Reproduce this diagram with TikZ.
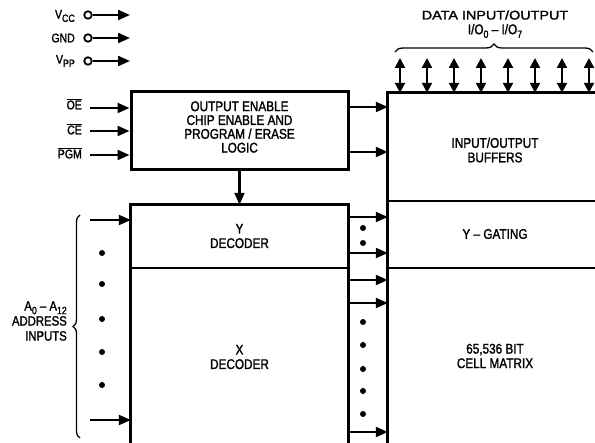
\documentclass[tikz,border=0pt]{standalone}
\usepackage{fontspec}
\setmainfont{Liberation Sans}[FakeStretch=0.84,FakeBold=1.6]
\newfontfamily\widefont{Liberation Sans}[FakeStretch=1.15,FakeBold=1.6]
\usetikzlibrary{arrows.meta,decorations.pathreplacing}
\newcommand{\lowsub}[1]{\raisebox{-0.5ex}{\fontsize{10.5}{10.5}\selectfont #1}}
\newcommand{\ovl}[1]{$\overline{\hbox{#1}}$}
\begin{document}
\begin{tikzpicture}[x=1pt,y=-1pt,
  box/.style={draw,line width=3pt,inner sep=0pt},
  part/.style={inner sep=0pt},
  divider/.style={line width=2.2pt},
  sig/.style={line width=2.1pt,-{Triangle[length=12pt,width=10pt]}},
  bidir/.style={line width=2.1pt,{Triangle[length=10pt,width=10pt]}-{Triangle[length=10pt,width=10pt]}},
  lbl/.style={font=\fontsize{14}{14.5}\selectfont,align=center,inner sep=0pt},
  pinl/.style={font=\fontsize{12.5}{14}\selectfont,anchor=east,inner sep=0pt},
  dot/.style={circle,fill,inner sep=0pt,minimum size=6pt},
  ring/.style={circle,draw,line width=1.8pt,inner sep=0pt,minimum size=7.5pt},
  bracestyle/.style={decorate,line width=1.3pt},
  ]
\useasboundingbox (0,0) rectangle (595,443);
\begin{scope}
\clip (0,0) rectangle (595,443);

% power pins
\node[pinl] (vcc) at (75,16) {V\lowsub{CC}};
\node[pinl] (gnd) at (75,38) {GND};
\node[pinl] (vpp) at (75,61) {V\lowsub{PP}};
\node[ring] (cvcc) at (88,15) {};
\node[ring] (cgnd) at (88,38) {};
\node[ring] (cvpp) at (88,61) {};
\coordinate (evcc) at (130,15);
\coordinate (egnd) at (130,38);
\coordinate (evpp) at (130,61);
\draw[sig] (cvcc) -- (evcc);
\draw[sig] (cgnd) -- (egnd);
\draw[sig] (cvpp) -- (evpp);

% logic block
\node[box,minimum width=217pt,minimum height=78pt] (logic) at (239.5,131) {};
\node[lbl,font=\fontsize{14}{13.8}\selectfont] (logictext) at (239.5,127)
  {OUTPUT ENABLE\\CHIP ENABLE AND\\PROGRAM / ERASE\\LOGIC};

\node[pinl] (oe) at (82,104) {\ovl{OE}};
\node[pinl] (ce) at (82,129) {\ovl{CE}};
\node[pinl] (pgm) at (82,153) {\ovl{PGM}};
\coordinate (soe) at (90,108);
\coordinate (sce) at (90,131);
\coordinate (spgm) at (90,155);
\draw[sig] (soe) -- (soe -| logic.west);
\draw[sig] (sce) -- (sce -| logic.west);
\draw[sig] (spgm) -- (spgm -| logic.west);

% decoders
\node[part,minimum width=217pt,minimum height=63pt] (ydec) at (239.5,236.5) {};
\node[part,minimum width=217pt,minimum height=204pt] (xdec) at (239.5,370) {};
\draw[line width=3pt] (ydec.north west) rectangle (xdec.south east);
\draw[divider] (ydec.south west) -- (ydec.south east);
\node[lbl] (ytext) at (239.5,236) {Y\\DECODER};
\node[lbl] (xtext) at (239.5,357) {X\\DECODER};

% right array
\node[part,minimum width=214pt,minimum height=108pt] (buf) at (495,147) {};
\node[part,minimum width=214pt,minimum height=67pt] (ygate) at (495,234.5) {};
\node[part,minimum width=214pt,minimum height=204pt] (matrix) at (495,370) {};
\draw[line width=3pt] (buf.north west) rectangle (matrix.south east);
\draw[divider] (buf.south west) -- (buf.south east);
\draw[divider] (ygate.south west) -- (ygate.south east);
\node[lbl] (buftext) at (495,150) {INPUT/OUTPUT\\BUFFERS};
\node[lbl] (ygtext) at (495,234) {Y -- GATING};
\node[lbl] (mtext) at (495,356) {65,536 BIT\\CELL MATRIX};

% logic to buffers and decoder
\coordinate (r1) at (0,107);
\coordinate (r2) at (0,152);
\draw[sig] (logic.east |- r1) -- (buf.west |- r1);
\draw[sig] (logic.east |- r2) -- (buf.west |- r2);
\draw[sig] (logic.south) -- (ydec.north);

% data I/O
\foreach \i in {0,...,7} {
  \coordinate (t\i) at (400+27*\i,58);
  \draw[bidir] (t\i) -- (t\i |- buf.north);
}
\coordinate (bl) at (395,52);
\coordinate (br) at (593,52);
\draw[bracestyle,decoration={brace,amplitude=8pt}] (bl) -- (br);
\node[lbl,font=\widefont\fontsize{12.5}{14}\selectfont] (datatext) at (495,15) {DATA INPUT/OUTPUT};
\node[lbl,font=\fontsize{14}{14}\selectfont] (iotext) at (495,31) {I/O\lowsub{0} -- I/O\lowsub{7}};

% address inputs
\coordinate (a0) at (90,220);
\coordinate (a12) at (90,420);
\draw[sig] (a0) -- (a0 -| ydec.west);
\draw[sig] (a12) -- (a12 -| xdec.west);
\foreach \y in {253,284,319,352,385} \node[dot] at (102,\y) {};
\coordinate (lb) at (80,438);
\coordinate (lt) at (80,215);
\draw[bracestyle,decoration={brace,amplitude=7pt}] (lb) -- (lt);
\node[lbl,align=right,anchor=east,font=\fontsize{13.5}{15}\selectfont] (addr) at (67,321)
  {A\lowsub{0} -- A\lowsub{12}\\ADDRESS\\INPUTS};

% decoder to array
\foreach \y in {217,253,280,303,432} {
  \coordinate (m) at (0,\y);
  \draw[sig] (xdec.east |- m) -- (matrix.west |- m);
}
\foreach \y in {228,243,322,345,369,391,414} \node[dot] at (363,\y) {};
\end{scope}
\end{tikzpicture}
\end{document}
